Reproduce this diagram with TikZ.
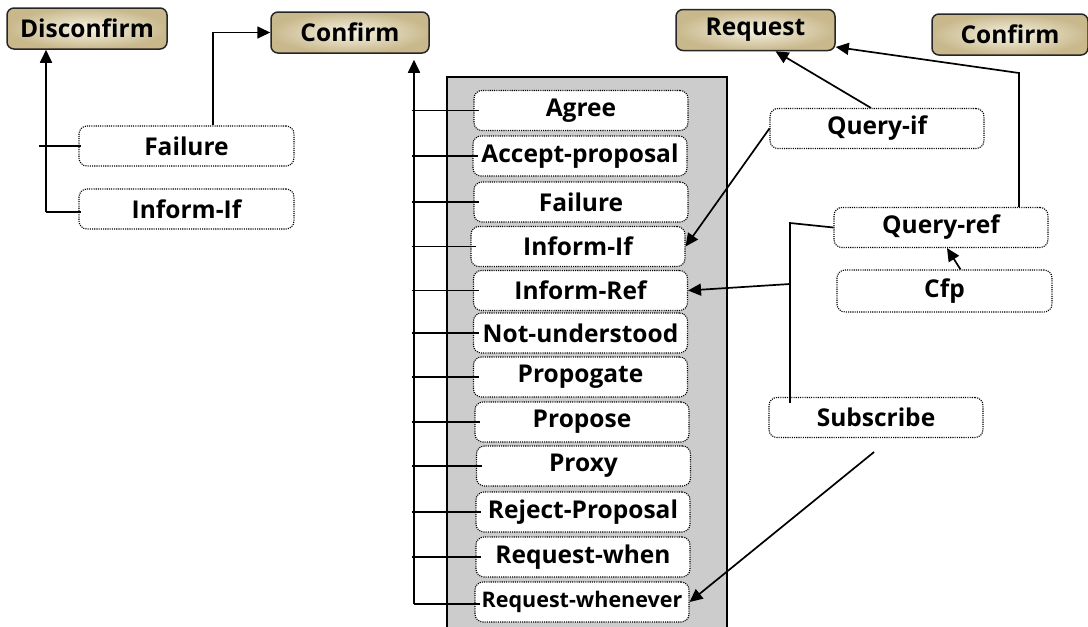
\documentclass[tikz,border=0pt]{standalone}
\usepackage{fontspec}
\setmainfont{Open Sans}
\usetikzlibrary{arrows.meta}
\definecolor{tanedge}{HTML}{C8B88C}
\definecolor{tanmid}{HTML}{F7F3E4}
\definecolor{panel}{HTML}{CCCCCC}
\begin{document}
\begin{tikzpicture}[x=1pt,y=-1pt,
  tbox/.style={draw=black!85, line width=1.5pt, rounded corners=7pt, inner color=tanmid, outer color=tanedge,
    minimum height=41pt, inner sep=0pt, font=\fontsize{24.5}{28}\selectfont\bfseries},
  dbox/.style={draw, dash pattern=on 1.1pt off 1.1pt, line width=1.1pt, rounded corners=8pt, fill=white,
    minimum width=214pt, minimum height=40pt, inner sep=0pt, font=\fontsize{24.5}{28}\selectfont\bfseries},
  con/.style={line width=1.7pt},
  arr/.style={con, -{Triangle[length=13pt,width=12pt]}}
]
\useasboundingbox (0,0) rectangle (1088,627);
% panel
\filldraw[fill=panel, draw=black, line width=1.7pt] (447,77) rectangle (727,640);
% top boxes
\node[tbox, minimum width=160pt] (disc) at (87,28.5) {Disconfirm};
\node[tbox, minimum width=158pt] (confL) at (350,32.5) {Confirm};
\node[tbox, minimum width=159pt] (req) at (755.5,30) {Request};
\node[tbox, minimum width=156pt] (confR) at (1010,34.5) {Confirm};
% left boxes
\node[dbox, minimum width=215pt] (failL) at (186.5,146) {Failure};
\node[dbox, minimum width=215pt] (infL) at (186.5,209) {Inform-If};
% center boxes
\node[dbox] (agree) at (581,110.5) {Agree};
\node[dbox] (accp) at (580,156) {Accept-proposal};
\node[dbox] (failC) at (581,202) {Failure};
\node[dbox] (infC) at (578,246.5) {Inform-If};
\node[dbox] (iref) at (580.5,290.5) {Inform-Ref};
\node[dbox] (notu) at (580.5,333) {Not-understood};
\node[dbox] (prop) at (580.5,377) {Propogate};
\node[dbox] (propose) at (582,422) {Propose};
\node[dbox] (proxy) at (583.5,466) {Proxy};
\node[dbox] (rejp) at (583,512) {Reject-Proposal};
\node[dbox] (rw) at (583,557) {Request-when};
\node[dbox, font=\fontsize{21.5}{25}\selectfont\bfseries] (rww) at (582,602) {Request-whenever};
% right boxes
\node[dbox] (qif) at (877,128.5) {Query-if};
\node[dbox] (qref) at (941,227.5) {Query-ref};
\node[dbox, minimum width=215pt, minimum height=42pt] (cfp) at (944.5,291) {Cfp};
\node[dbox] (sub) at (876,417.5) {Subscribe};
% left connectors
\coordinate (dv) at (46,212);
\draw[arr] (dv) -- (dv |- disc.south);
\draw[con] (39,146) -- ([xshift=3pt]failL.west);
\draw[con] (dv) -- ([xshift=3pt]infL.west |- dv);
\draw[arr] ([xshift=26.5pt]failL.north) |- (confL.west);
% center bus
\coordinate (bus) at (414,604);
\draw[arr] (bus) -- ([yshift=-6pt]bus |- confL.south);
\foreach \b in {agree,accp,failC,infC,iref,notu,prop,propose,proxy,rejp,rw}
  \draw[con] (\b.west -| 412,0) -- ([xshift=6pt]\b.west);
\draw[con] (bus) -- ([xshift=6pt]rww.west |- bus);
% right connectors
\draw[arr] ([xshift=-6pt]qif.north) -- ([xshift=20pt]req.south);
\draw[arr] (qif.west) -- (infC.east);
\coordinate (qk) at (1019,73);
\draw[arr] (qref.north -| qk) -- (qk) -- ([yshift=-17pt]req.east);
\coordinate (sv) at (790,223);
\draw[con] (qref.west) -- (sv) -- ([yshift=-6pt]sv |- sub.north);
\coordinate (sj) at (790,284);
\draw[arr] (sj) -- (iref.east);
\draw[arr] ([xshift=16pt]cfp.north) -- ([xshift=6pt]qref.south);
\draw[arr] ([yshift=-14pt,xshift=-2pt]sub.south) -- (rww.east);
\end{tikzpicture}
\end{document}
